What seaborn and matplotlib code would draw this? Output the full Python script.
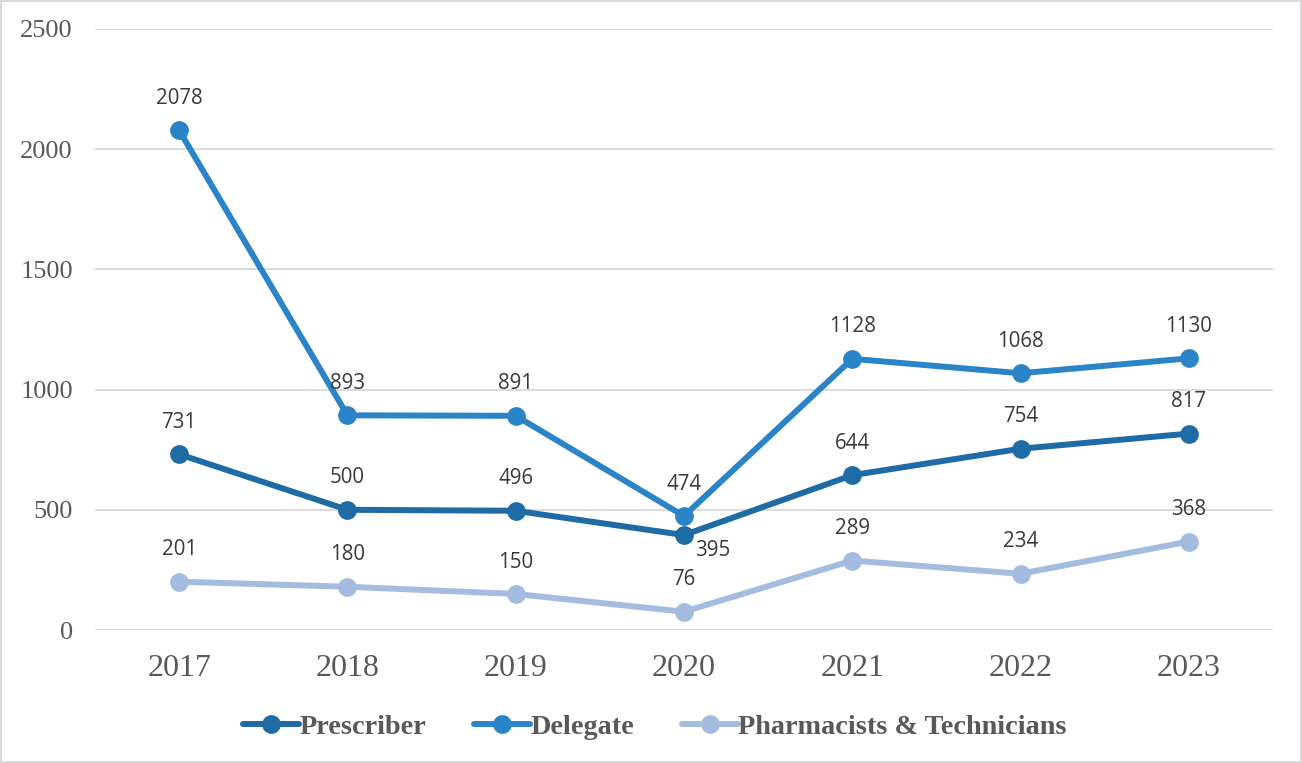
import matplotlib
matplotlib.use("Agg")
import matplotlib.pyplot as plt
import seaborn as sns
import pandas as pd
from matplotlib.patches import Rectangle

years = ["2017", "2018", "2019", "2020", "2021", "2022", "2023"]
prescriber = [731, 500, 496, 395, 644, 754, 817]
delegate = [2078, 893, 891, 474, 1128, 1068, 1130]
pharmacists = [201, 180, 150, 76, 289, 234, 368]
series_names = ["Prescriber", "Delegate", "Pharmacists & Technicians"]
colors = ["#1F6BA5", "#2A84C7", "#A3BCDF"]
yticks = [0, 500, 1000, 1500, 2000, 2500]

rows = []
for name, vals in zip(series_names, [prescriber, delegate, pharmacists]):
    for y, v in zip(years, vals):
        rows.append({"Year": y, "Value": v, "Series": name})
df = pd.DataFrame(rows)

sns.set_theme(style="white")
fig = plt.figure(figsize=(13.02, 7.63), dpi=100)
ax = fig.add_axes([0.073, 0.1743, 0.9047, 0.7877])

sns.lineplot(data=df, x="Year", y="Value", hue="Series", hue_order=series_names,
             palette=colors, marker="o", markersize=13.5, markeredgewidth=0,
             linewidth=4.3, sort=False, ax=ax, legend=True)

ax.set_xlim(-0.5, 6.5)
ax.set_ylim(0, 2500)
ax.set_yticks(yticks)
ax.grid(axis="y", color="#D9D9D9", linewidth=1.3)
ax.grid(axis="x", visible=False)
ax.set_axisbelow(True)
for s in ax.spines.values():
    s.set_visible(False)
ax.set_xlabel("")
ax.set_ylabel("")
ax.tick_params(axis="both", length=0)
for lab in ax.get_xticklabels():
    lab.set_fontfamily("Liberation Serif")
    lab.set_fontsize(23)
    lab.set_color("#595959")
for lab in ax.get_yticklabels():
    lab.set_fontfamily("Liberation Serif")
    lab.set_fontsize(19)
    lab.set_color("#595959")
ax.tick_params(axis="x", pad=17)
ax.tick_params(axis="y", pad=16)

for name, vals in zip(series_names, [prescriber, delegate, pharmacists]):
    for i, v in enumerate(vals):
        off = (0, 23)
        if name == "Prescriber" and years[i] == "2020":
            off = (21, -11)
        ax.annotate(str(v), (i, v), xytext=off, textcoords="offset points",
                    ha="center", va="center", fontsize=14.8,
                    fontfamily="Open Sans", color="#3A3A3A")

handles, labels = ax.get_legend_handles_labels()
ax.legend_.remove()
leg = fig.legend(handles, labels, loc="center", bbox_to_anchor=(0.503, 0.047),
                 ncol=3, frameon=False, handlelength=2.0, columnspacing=1.7,
                 handletextpad=0.0,
                 prop={"family": "Liberation Serif", "weight": "bold", "size": 20.3})
for t in leg.get_texts():
    t.set_color("#595959")

fig.patches.append(Rectangle((0.001, 0.001), 0.998, 0.998, transform=fig.transFigure,
                             fill=False, edgecolor="#D9D9D9", linewidth=1.5))

fig.savefig("out.png", dpi=100, facecolor="white")
